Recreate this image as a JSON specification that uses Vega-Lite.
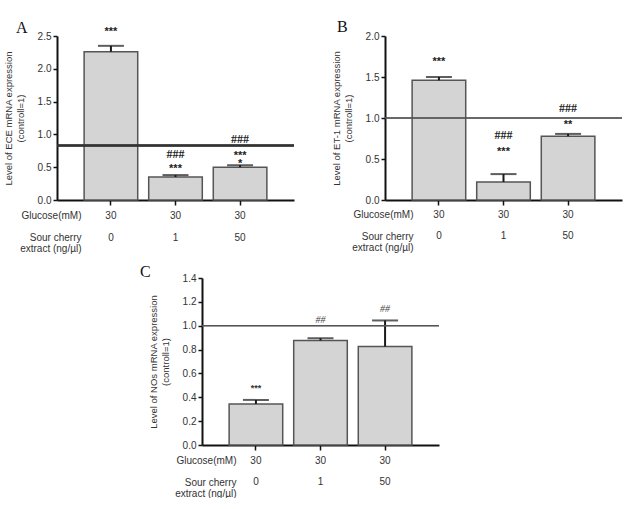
{
  "$schema": "https://vega.github.io/schema/vega-lite/v6.json",
  "background": "white",
  "padding": {"left": 3, "top": 19, "right": 0, "bottom": 0},
  "datasets": {
    "barsA": [
      {"cond": "30|0", "mean": 2.26, "upper": 2.35},
      {"cond": "30|1", "mean": 0.35, "upper": 0.38},
      {"cond": "30|50", "mean": 0.5, "upper": 0.53}
    ],
    "annA": [
      {"cond": "30|0", "kind": "star", "label": "***", "pos": 2.56},
      {"cond": "30|1", "kind": "star", "label": "***", "pos": 0.47},
      {"cond": "30|1", "kind": "hash", "label": "###", "pos": 0.7},
      {"cond": "30|50", "kind": "star", "label": "***", "pos": 0.67},
      {"cond": "30|50", "kind": "hash", "label": "###", "pos": 0.925},
      {"cond": "30|50", "kind": "star", "label": "*", "pos": 0.55}
    ],
    "barsB": [
      {"cond": "30|0", "mean": 1.46, "upper": 1.5},
      {"cond": "30|1", "mean": 0.22, "upper": 0.316},
      {"cond": "30|50", "mean": 0.778, "upper": 0.806}
    ],
    "annB": [
      {"cond": "30|0", "kind": "star", "label": "***", "pos": 1.68},
      {"cond": "30|1", "kind": "star", "label": "***", "pos": 0.587},
      {"cond": "30|1", "kind": "hash", "label": "###", "pos": 0.79},
      {"cond": "30|50", "kind": "star", "label": "**", "pos": 0.91},
      {"cond": "30|50", "kind": "hash", "label": "###", "pos": 1.12}
    ],
    "barsC": [
      {"cond": "30|0", "mean": 0.344, "upper": 0.378},
      {"cond": "30|1", "mean": 0.876, "upper": 0.895},
      {"cond": "30|50", "mean": 0.825, "upper": 1.044}
    ],
    "annC": [
      {"cond": "30|0", "kind": "star", "label": "***", "pos": 0.475},
      {"cond": "30|1", "kind": "hash", "label": "##", "pos": 1.05},
      {"cond": "30|50", "kind": "hash", "label": "##", "pos": 1.14}
    ]
  },
  "vconcat": [
    {
      "hconcat": [
        {
          "width": 237,
          "height": 164,
          "title": {"text": "A", "anchor": "start", "frame": "group", "font": "Liberation Serif", "fontSize": 16, "fontWeight": "normal", "color": "#111", "baseline": "bottom", "offset": -26, "dx": -41},
          "data": {"name": "barsA"},
          "layer": [
            {
              "mark": {"type": "bar", "fill": "#d4d4d4", "stroke": "#555555", "strokeWidth": 1.5},
              "encoding": {
                "x": {
                  "field": "cond", "type": "nominal", "sort": null,
                  "scale": {"paddingInner": 0.17, "paddingOuter": 0.42},
                  "axis": {
                    "title": ["Glucose(mM)", "\u200b", "Sour cherry", "extract (ng/µl)"],
                    "titleX": 24, "titleY": 10, "titleAlign": "right", "titleBaseline": "top", "titleAngle": 0,
                    "titleLineHeight": 11, "titleFontSize": 10,
                    "labelExpr": "split(datum.label, '|')", "labelAngle": 0, "labelLineHeight": 22,
                    "labelPadding": 5, "tickSize": 5, "labelBaseline": "top"
                  }
                },
                "y": {
                  "field": "mean", "type": "quantitative",
                  "scale": {"domain": [0, 2.5], "nice": false},
                  "axis": {"title": ["Level of ECE mRNA expression", "(controll=1)"], "values": [0, 0.5, 1, 1.5, 2, 2.5], "format": ".1f", "tickSize": 4, "labelPadding": 2, "labelOverlap": false, "titlePadding": 12, "titleLineHeight": 12}
                }
              }
            },
            {
              "mark": {"type": "rule", "color": "#1a1a1a", "strokeWidth": 2},
              "encoding": {
                "x": {"field": "cond", "type": "nominal", "sort": null},
                "y": {"field": "mean", "type": "quantitative", "axis": {"title": ["Level of ECE mRNA expression", "(controll=1)"], "values": [0, 0.5, 1, 1.5, 2, 2.5], "format": ".1f", "tickSize": 4, "labelPadding": 2, "labelOverlap": false, "titlePadding": 12, "titleLineHeight": 12}},
                "y2": {"field": "upper"}
              }
            },
            {
              "mark": {"type": "tick", "color": "#1a1a1a", "thickness": 2, "size": 26},
              "encoding": {
                "x": {"field": "cond", "type": "nominal", "sort": null},
                "y": {"field": "upper", "type": "quantitative", "axis": {"title": ["Level of ECE mRNA expression", "(controll=1)"], "values": [0, 0.5, 1, 1.5, 2, 2.5], "format": ".1f", "tickSize": 4, "labelPadding": 2, "labelOverlap": false, "titlePadding": 12, "titleLineHeight": 12}}
              }
            },
            {
              "mark": {"type": "rule", "color": "#333333", "strokeWidth": 2},
              "encoding": {"y": {"datum": 0.83, "type": "quantitative", "axis": {"title": ["Level of ECE mRNA expression", "(controll=1)"], "values": [0, 0.5, 1, 1.5, 2, 2.5], "format": ".1f", "tickSize": 4, "labelPadding": 2, "labelOverlap": false, "titlePadding": 12, "titleLineHeight": 12}}}
            },
            {
              "data": {"name": "annA"},
              "transform": [{"filter": "datum.kind == 'star'"}],
              "mark": {"type": "text", "font": "Liberation Sans", "fontSize": 11, "fontWeight": "bold", "color": "#222", "baseline": "middle"},
              "encoding": {
                "x": {"field": "cond", "type": "nominal", "sort": null},
                "y": {"field": "pos", "type": "quantitative", "axis": {"title": ["Level of ECE mRNA expression", "(controll=1)"], "values": [0, 0.5, 1, 1.5, 2, 2.5], "format": ".1f", "tickSize": 4, "labelPadding": 2, "labelOverlap": false, "titlePadding": 12, "titleLineHeight": 12}},
                "text": {"field": "label"}
              }
            },
            {
              "data": {"name": "annA"},
              "transform": [{"filter": "datum.kind == 'hash'"}],
              "mark": {"type": "text", "font": "Liberation Serif", "fontSize": 12, "fontWeight": "bold", "color": "#222", "baseline": "middle"},
              "encoding": {
                "x": {"field": "cond", "type": "nominal", "sort": null},
                "y": {"field": "pos", "type": "quantitative", "axis": {"title": ["Level of ECE mRNA expression", "(controll=1)"], "values": [0, 0.5, 1, 1.5, 2, 2.5], "format": ".1f", "tickSize": 4, "labelPadding": 2, "labelOverlap": false, "titlePadding": 12, "titleLineHeight": 12}},
                "text": {"field": "label"}
              }
            }
          ]
        },
        {
          "width": 237,
          "height": 164,
          "title": {"text": "B", "anchor": "start", "frame": "group", "font": "Liberation Serif", "fontSize": 16, "fontWeight": "normal", "color": "#111", "baseline": "bottom", "offset": -20, "dx": -48},
          "data": {"name": "barsB"},
          "layer": [
            {
              "mark": {"type": "bar", "fill": "#d4d4d4", "stroke": "#555555", "strokeWidth": 1.5},
              "encoding": {
                "x": {
                  "field": "cond", "type": "nominal", "sort": null,
                  "scale": {"paddingInner": 0.17, "paddingOuter": 0.42},
                  "axis": {
                    "title": ["Glucose(mM)", "\u200b", "Sour cherry", "extract (ng/µl)"],
                    "titleX": 28, "titleY": 9, "titleAlign": "right", "titleBaseline": "top", "titleAngle": 0,
                    "titleLineHeight": 11, "titleFontSize": 10,
                    "labelExpr": "split(datum.label, '|')", "labelAngle": 0, "labelLineHeight": 21,
                    "labelPadding": 4, "tickSize": 5, "labelBaseline": "top"
                  }
                },
                "y": {
                  "field": "mean", "type": "quantitative",
                  "scale": {"domain": [0, 2], "nice": false},
                  "axis": {"title": ["Level of ET-1 mRNA expression", "(controll=1)"], "values": [0, 0.5, 1, 1.5, 2], "format": ".1f", "tickSize": 4, "labelPadding": 2, "labelOverlap": false, "titlePadding": 12, "titleLineHeight": 12}
                }
              }
            },
            {
              "mark": {"type": "rule", "color": "#1a1a1a", "strokeWidth": 2},
              "encoding": {
                "x": {"field": "cond", "type": "nominal", "sort": null},
                "y": {"field": "mean", "type": "quantitative", "axis": {"title": ["Level of ET-1 mRNA expression", "(controll=1)"], "values": [0, 0.5, 1, 1.5, 2], "format": ".1f", "tickSize": 4, "labelPadding": 2, "labelOverlap": false, "titlePadding": 12, "titleLineHeight": 12}},
                "y2": {"field": "upper"}
              }
            },
            {
              "mark": {"type": "tick", "color": "#1a1a1a", "thickness": 2, "size": 26},
              "encoding": {
                "x": {"field": "cond", "type": "nominal", "sort": null},
                "y": {"field": "upper", "type": "quantitative", "axis": {"title": ["Level of ET-1 mRNA expression", "(controll=1)"], "values": [0, 0.5, 1, 1.5, 2], "format": ".1f", "tickSize": 4, "labelPadding": 2, "labelOverlap": false, "titlePadding": 12, "titleLineHeight": 12}}
              }
            },
            {
              "mark": {"type": "rule", "color": "#555555", "strokeWidth": 1.2},
              "encoding": {"y": {"datum": 1, "type": "quantitative", "axis": {"title": ["Level of ET-1 mRNA expression", "(controll=1)"], "values": [0, 0.5, 1, 1.5, 2], "format": ".1f", "tickSize": 4, "labelPadding": 2, "labelOverlap": false, "titlePadding": 12, "titleLineHeight": 12}}}
            },
            {
              "data": {"name": "annB"},
              "transform": [{"filter": "datum.kind == 'star'"}],
              "mark": {"type": "text", "font": "Liberation Sans", "fontSize": 11, "fontWeight": "bold", "color": "#222", "baseline": "middle"},
              "encoding": {
                "x": {"field": "cond", "type": "nominal", "sort": null},
                "y": {"field": "pos", "type": "quantitative", "axis": {"title": ["Level of ET-1 mRNA expression", "(controll=1)"], "values": [0, 0.5, 1, 1.5, 2], "format": ".1f", "tickSize": 4, "labelPadding": 2, "labelOverlap": false, "titlePadding": 12, "titleLineHeight": 12}},
                "text": {"field": "label"}
              }
            },
            {
              "data": {"name": "annB"},
              "transform": [{"filter": "datum.kind == 'hash'"}],
              "mark": {"type": "text", "font": "Liberation Serif", "fontSize": 12, "fontWeight": "bold", "color": "#222", "baseline": "middle"},
              "encoding": {
                "x": {"field": "cond", "type": "nominal", "sort": null},
                "y": {"field": "pos", "type": "quantitative", "axis": {"title": ["Level of ET-1 mRNA expression", "(controll=1)"], "values": [0, 0.5, 1, 1.5, 2], "format": ".1f", "tickSize": 4, "labelPadding": 2, "labelOverlap": false, "titlePadding": 12, "titleLineHeight": 12}},
                "text": {"field": "label"}
              }
            }
          ]
        }
      ],
      "spacing": 36
    },
    {
      "hconcat": [
        {
          "data": {"values": []},
          "mark": "point",
          "width": 77,
          "height": 10
        },
        {
          "width": 237,
          "height": 167,
          "title": {"text": "C", "anchor": "start", "frame": "group", "font": "Liberation Serif", "fontSize": 16, "fontWeight": "normal", "color": "#111", "baseline": "bottom", "offset": -23, "dx": -62},
          "data": {"name": "barsC"},
          "layer": [
            {
              "mark": {"type": "bar", "fill": "#d4d4d4", "stroke": "#555555", "strokeWidth": 1.5},
              "encoding": {
                "x": {
                  "field": "cond", "type": "nominal", "sort": null,
                  "scale": {"paddingInner": 0.17, "paddingOuter": 0.42},
                  "axis": {
                    "title": ["Glucose(mM)", "\u200b", "Sour cherry", "extract (ng/µl)"],
                    "titleX": 34, "titleY": 10, "titleAlign": "right", "titleBaseline": "top", "titleAngle": 0,
                    "titleLineHeight": 11, "titleFontSize": 10,
                    "labelExpr": "split(datum.label, '|')", "labelAngle": 0, "labelLineHeight": 21,
                    "labelPadding": 5, "tickSize": 5, "labelBaseline": "top"
                  }
                },
                "y": {
                  "field": "mean", "type": "quantitative",
                  "scale": {"domain": [0, 1.4], "nice": false},
                  "axis": {"title": ["Level of NOs mRNA expression", "(controll=1)"], "values": [0, 0.2, 0.4, 0.6, 0.8, 1, 1.2, 1.4], "format": ".1f", "tickSize": 4, "labelPadding": 2, "labelOverlap": false, "titlePadding": 12, "titleLineHeight": 12}
                }
              }
            },
            {
              "mark": {"type": "rule", "color": "#1a1a1a", "strokeWidth": 2},
              "encoding": {
                "x": {"field": "cond", "type": "nominal", "sort": null},
                "y": {"field": "mean", "type": "quantitative", "axis": {"title": ["Level of NOs mRNA expression", "(controll=1)"], "values": [0, 0.2, 0.4, 0.6, 0.8, 1, 1.2, 1.4], "format": ".1f", "tickSize": 4, "labelPadding": 2, "labelOverlap": false, "titlePadding": 12, "titleLineHeight": 12}},
                "y2": {"field": "upper"}
              }
            },
            {
              "mark": {"type": "tick", "color": "#1a1a1a", "thickness": 2, "size": 26},
              "encoding": {
                "x": {"field": "cond", "type": "nominal", "sort": null},
                "y": {"field": "upper", "type": "quantitative", "axis": {"title": ["Level of NOs mRNA expression", "(controll=1)"], "values": [0, 0.2, 0.4, 0.6, 0.8, 1, 1.2, 1.4], "format": ".1f", "tickSize": 4, "labelPadding": 2, "labelOverlap": false, "titlePadding": 12, "titleLineHeight": 12}}
              }
            },
            {
              "mark": {"type": "rule", "color": "#555555", "strokeWidth": 1.2},
              "encoding": {"y": {"datum": 1, "type": "quantitative", "axis": {"title": ["Level of NOs mRNA expression", "(controll=1)"], "values": [0, 0.2, 0.4, 0.6, 0.8, 1, 1.2, 1.4], "format": ".1f", "tickSize": 4, "labelPadding": 2, "labelOverlap": false, "titlePadding": 12, "titleLineHeight": 12}}}
            },
            {
              "data": {"name": "annC"},
              "transform": [{"filter": "datum.kind == 'star'"}],
              "mark": {"type": "text", "font": "Liberation Sans", "fontSize": 9, "fontWeight": "bold", "color": "#333", "baseline": "middle"},
              "encoding": {
                "x": {"field": "cond", "type": "nominal", "sort": null},
                "y": {"field": "pos", "type": "quantitative", "axis": {"title": ["Level of NOs mRNA expression", "(controll=1)"], "values": [0, 0.2, 0.4, 0.6, 0.8, 1, 1.2, 1.4], "format": ".1f", "tickSize": 4, "labelPadding": 2, "labelOverlap": false, "titlePadding": 12, "titleLineHeight": 12}},
                "text": {"field": "label"}
              }
            },
            {
              "data": {"name": "annC"},
              "transform": [{"filter": "datum.kind == 'hash'"}],
              "mark": {"type": "text", "font": "Liberation Serif", "fontSize": 10, "fontStyle": "italic", "color": "#444", "baseline": "middle"},
              "encoding": {
                "x": {"field": "cond", "type": "nominal", "sort": null},
                "y": {"field": "pos", "type": "quantitative", "axis": {"title": ["Level of NOs mRNA expression", "(controll=1)"], "values": [0, 0.2, 0.4, 0.6, 0.8, 1, 1.2, 1.4], "format": ".1f", "tickSize": 4, "labelPadding": 2, "labelOverlap": false, "titlePadding": 12, "titleLineHeight": 12}},
                "text": {"field": "label"}
              }
            }
          ]
        }
      ],
      "spacing": 6
    }
  ],
  "spacing": 11,
  "config": {
    "view": {"stroke": null},
    "font": "Liberation Sans",
    "axis": {
      "grid": false,
      "domainColor": "#111111",
      "domainWidth": 2,
      "tickColor": "#111111",
      "tickWidth": 1.5,
      "labelColor": "#333333",
      "labelFont": "Liberation Sans",
      "labelFontSize": 10,
      "titleColor": "#333333",
      "titleFont": "Liberation Sans",
      "titleFontSize": 9.5,
      "titleFontWeight": "normal"
    }
  }
}
